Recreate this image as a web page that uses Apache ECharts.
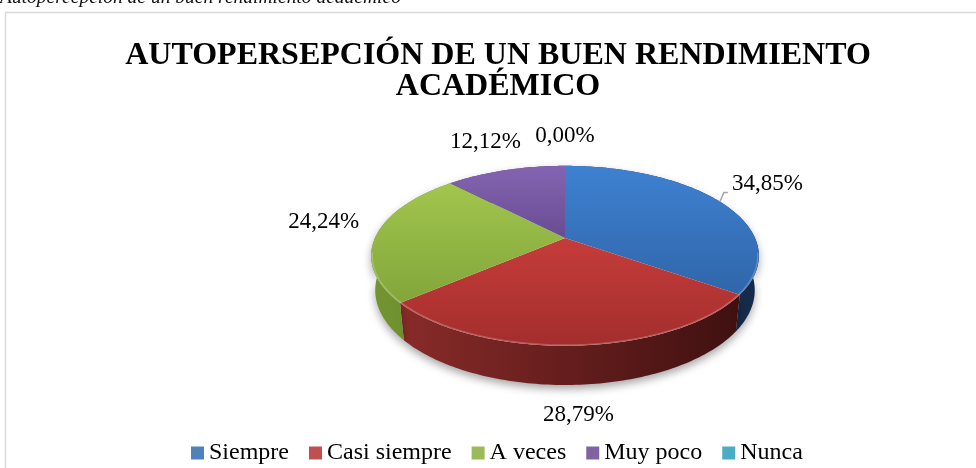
<!DOCTYPE html>
<html><head><meta charset="utf-8">
<script src="https://cdn.jsdelivr.net/npm/echarts@6/dist/echarts.min.js"></script>
<style>html,body{margin:0;padding:0;background:#fff;overflow:hidden}#chart{width:976px;height:468px}</style>
</head><body><div id="chart"></div>
<script>
// ---- data ----
const categories = ['Siempre', 'Casi siempre', 'A veces', 'Muy poco', 'Nunca'];
const values = [34.85, 28.79, 24.24, 12.12, 0.00];
const titleLines = ['AUTOPERSEPCIÓN DE UN BUEN RENDIMIENTO', 'ACADÉMICO'];
const captionText = 'Autopercepción de un buen rendimiento académico';

// ---- styles ----
const legendColors = ['#4f81bd', '#c0504d', '#9bbb59', '#8064a2', '#4bacc6'];
const topLight = ['#3e81d1', '#dc4642', '#a6ca50', '#8464b2', '#4fb8d4'];
const topDark  = ['#2a5b9a', '#a32e2d', '#779a34', '#3e2a62', '#2a8099'];
const sideLight = ['#2b5a94', '#8e2d2b', '#739530', '#5c4580', '#2f8aa6'];
const sideDark  = ['#142a48', '#3c0f0f', '#3a4d18', '#2e2244', '#175263'];
const SERIF = '"Liberation Serif", "Times New Roman", serif';
const LABEL_SIZE = 23;

// ---- 3D projection layout ----
const CX = 565, CY = 238, FOCAL = 855, DIST = 4.5, TS = 0.455, TC = 0.89, THICK = 0.204;
function proj(theta, r, h) {
  const X = r * Math.sin(theta), Z = r * Math.cos(theta);
  const v = Z * TS + h * TC;
  const dep = DIST + Z * TC - h * TS;
  return [CX + FOCAL * X / dep, CY - FOCAL * v / dep];
}
function arc(a0, a1, r, h) {
  const n = Math.max(2, Math.ceil((a1 - a0) / (Math.PI / 180)));
  const pts = [];
  for (let k = 0; k <= n; k++) pts.push(proj(a0 + (a1 - a0) * k / n, r, h));
  return pts;
}

const total = values.reduce((a, b) => a + b, 0);
let acc = 0;
const slices = values.map(v => {
  const a0 = acc / total * Math.PI * 2; acc += v;
  const a1 = acc / total * Math.PI * 2;
  return { a0, a1 };
});
const labelTexts = values.map(v => v.toFixed(2).replace('.', ',') + '%');

const mctx = document.createElement('canvas').getContext('2d');
mctx.font = LABEL_SIZE + 'px ' + SERIF;

const labels = [];
slices.forEach((sl, i) => {
  const mid = (sl.a0 + sl.a1) / 2;
  const s = Math.sin(mid), c = Math.cos(mid);
  const h = c < -0.3 ? -THICK : 0;
  const rim = proj(mid, 1, h);
  const w = mctx.measureText(labelTexts[i]).width;
  let cx = rim[0] + s * (w / 2 + 18);
  const cy = rim[1] - c * 30 - 12 * Math.pow(1 - Math.abs(c), 2);
  for (const o of labels) {
    const need = (w + o.w) / 2 + 10;
    if (Math.abs(cx - o.cx) < need && Math.abs(cy - o.cy) < LABEL_SIZE) {
      cx = cx >= o.cx ? o.cx + need : o.cx - need;
    }
  }
  labels.push({ cx, cy, w, rim, leader: s > 0.5 });
});

const yTop = proj(0, 1, 0)[1], yBot = proj(Math.PI, 1, 0)[1];
const xLeft = proj(Math.PI * 1.5, 1, 0)[0], xRight = proj(Math.PI / 2, 1, 0)[0];
function grad(x, y, x2, y2, c1, c2) {
  return { type: 'linear', x, y, x2, y2, global: true,
    colorStops: [{ offset: 0, color: c1 }, { offset: 1, color: c2 }] };
}

function renderItem(params, api) {
  const i = params.dataIndex;
  const sl = slices[i];
  const children = [];
  if (sl.a1 - sl.a0 > 1e-6) {
    const topArc = arc(sl.a0, sl.a1, 1, 0);
    const botArc = arc(sl.a0, sl.a1, 1, -THICK).reverse();
    children.push({
      type: 'polygon', z2: 1,
      shape: { points: topArc.concat(botArc) },
      style: { fill: grad(xLeft, 0, xRight, 0, sideLight[i], sideDark[i]),
        shadowBlur: 9, shadowOffsetY: 4, shadowColor: 'rgba(0,0,0,0.35)' }
    });
    children.push({
      type: 'polygon', z2: 10,
      shape: { points: [proj(0, 0, 0)].concat(topArc) },
      style: { fill: grad(0, yTop, 0, yBot, topLight[i], topDark[i]) }
    });
    const n = Math.max(2, Math.ceil((sl.a1 - sl.a0) / (Math.PI / 180)));
    const hl = [];
    for (let k = 0; k <= n; k++) {
      const t = sl.a0 + (sl.a1 - sl.a0) * k / n;
      if (Math.cos(t) < -0.15) hl.push(proj(t, 0.995, 0));
    }
    if (hl.length > 1) children.push({
      type: 'polyline', z2: 11, shape: { points: hl },
      style: { fill: null, stroke: 'rgba(255,255,255,0.22)', lineWidth: 1.5 }
    });
  }
  const L = labels[i];
  children.push({
    type: 'text', z2: 30,
    style: { text: labelTexts[i], x: L.cx, y: L.cy, align: 'center', verticalAlign: 'middle',
      textAlign: 'center', textVerticalAlign: 'middle',
      fontSize: LABEL_SIZE, fontFamily: SERIF, fill: '#000' }
  });
  if (L.leader) {
    const ly = L.cy + 8, left = L.cx - L.w / 2;
    children.push({
      type: 'polyline', z2: 30,
      shape: { points: [L.rim, [L.rim[0] + 4, ly], [left - 4, ly]] },
      style: { fill: null, stroke: '#a6a6a6', lineWidth: 1.5 }
    });
  }
  return { type: 'group', children };
}

const chart = echarts.init(document.getElementById('chart'), null, { renderer: 'canvas' });
chart.setOption({
  animation: false,
  color: legendColors,
  graphic: [
    { type: 'rect', z: -10, shape: { x: 5.5, y: 12.5, width: 1000, height: 480 },
      style: { fill: '#fff', stroke: '#d9d9d9', lineWidth: 1.5 } },
    { type: 'text', left: 0, top: -12,
      style: { text: captionText, fontSize: 19.5, fontStyle: 'italic', fontFamily: SERIF, fill: '#111' } },
    { type: 'text', z: 5, x: 498, y: 40,
      style: { text: titleLines.join('\n'), align: 'center', textAlign: 'center', verticalAlign: 'top',
        fontSize: 32, lineHeight: 31, fontWeight: 'bold', fontFamily: SERIF, fill: '#000' } }
  ],
  legend: {
    data: categories, left: 186, top: 436, itemWidth: 13, itemHeight: 13, itemGap: 20,
    selectedMode: false, icon: 'rect',
    textStyle: { fontSize: 24, fontFamily: SERIF, color: '#000' }
  },
  series: [
    { type: 'custom', coordinateSystem: 'none', silent: true,
      data: values.map(v => [v]), renderItem },
    { type: 'pie', radius: [0, 0], center: [CX, CY], silent: true,
      label: { show: false }, labelLine: { show: false },
      data: categories.map((n, i) => ({ name: n, value: values[i] })) }
  ]
});
</script></body></html>
